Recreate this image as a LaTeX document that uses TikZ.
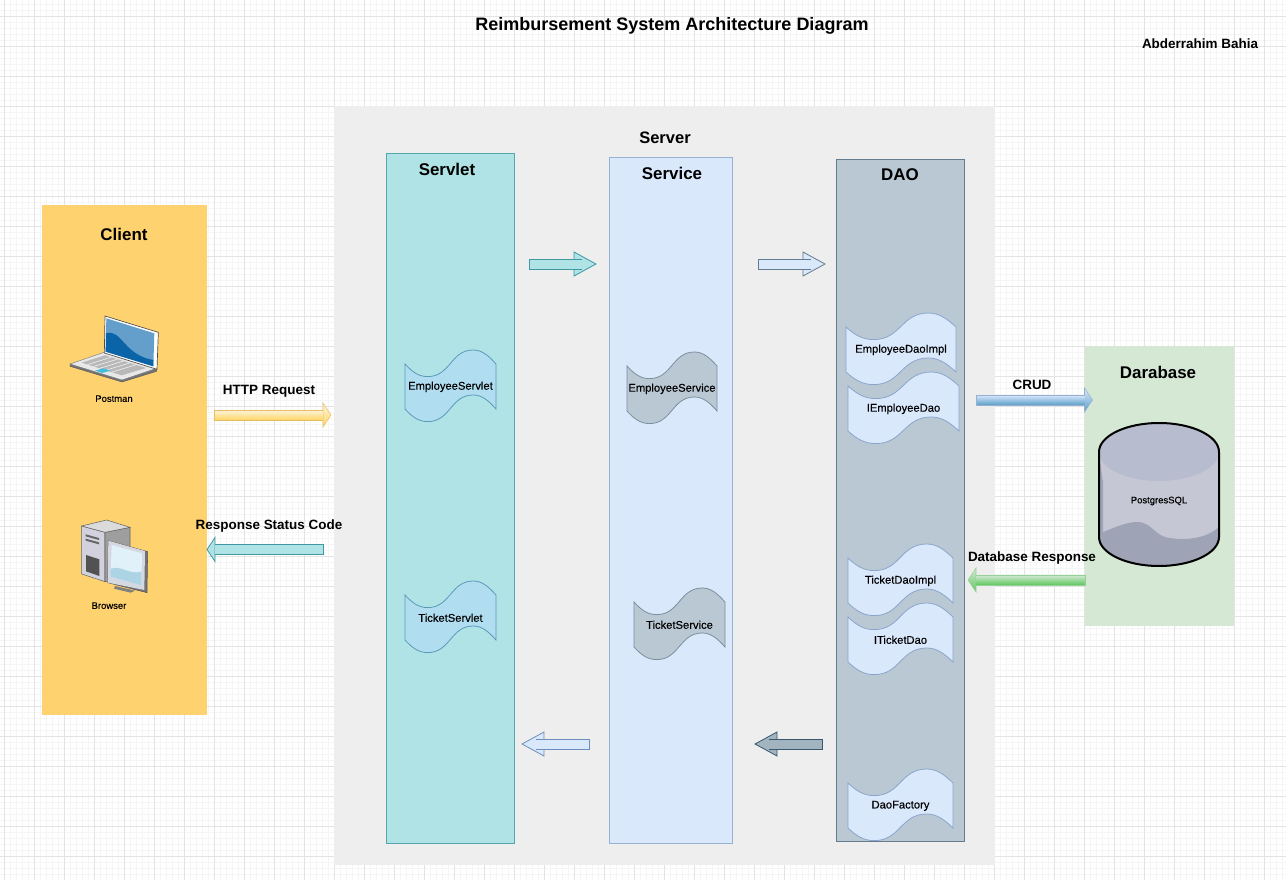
\documentclass[tikz,border=0pt]{standalone}
\usepackage{fontspec}
\setmainfont{Liberation Sans}
\newfontfamily\wavefont[FakeBold=0.25]{Liberation Sans}
\usetikzlibrary{calc}
\definecolor{clientfill}{HTML}{FFD270}
\definecolor{serverfill}{HTML}{EEEEEE}
\definecolor{tealfill}{HTML}{B0E3E6}
\definecolor{tealline}{HTML}{0E8088}
\definecolor{skyfill}{HTML}{B1DDF0}
\definecolor{skyline}{HTML}{5A9AB8}
\definecolor{bluefill}{HTML}{DAE8FC}
\definecolor{blueline}{HTML}{6C8EBF}
\definecolor{slatefill}{HTML}{BAC8D3}
\definecolor{slateline}{HTML}{23445D}
\definecolor{greenfill}{HTML}{D5E8D4}
\definecolor{cylbody}{HTML}{C5C7D4}
\definecolor{cyltop}{HTML}{B8BCCF}
\definecolor{cyllow}{HTML}{9EA3B5}
\definecolor{screenlight}{HTML}{649FCB}
\definecolor{screendark}{HTML}{0B64A8}
\tikzset{
  panel/.style={draw=#1!70!white,line width=.8pt},
  titletext/.style={font=\bfseries\fontsize{12.7}{14}\selectfont,inner sep=0pt},
  labeltext/.style={font=\bfseries\fontsize{10.1}{12}\selectfont,inner sep=0pt},
  wavetext/.style={font=\wavefont\fontsize{8.4}{10}\selectfont,inner sep=0pt},
  icontext/.style={font=\wavefont\fontsize{7.1}{8}\selectfont,inner sep=0pt},
  waveteal/.style={fill=skyfill,draw=skyline,line width=.6pt},
  waveslate/.style={fill=slatefill,draw=slateline!60!white,line width=.6pt},
  waveblue/.style={fill=bluefill,draw=blueline!80!white,line width=.6pt},
  arrowteal/.style={fill=tealfill,draw=tealline!80!white,line width=.6pt},
  arrowblue/.style={fill=bluefill,draw=slateline!70!white,line width=.6pt},
  arrowpale/.style={fill=bluefill,draw=blueline,line width=.6pt},
  arrowslate/.style={fill=slatefill!85!slateline,draw=slateline!90!white,line width=.6pt},
  arrowyellow/.style={top color=clientfill!25!white,bottom color=clientfill!90!yellow,draw=clientfill!90!black,line width=.4pt},
  arrowcrud/.style={top color=bluefill,bottom color=blueline!85!cyan,draw=blueline!70!white,line width=.4pt},
  arrowgreen/.style={top color=greenfill,bottom color=green!50!gray!80!greenfill,draw=green!40!gray!60!white,line width=.4pt},
}
% style, from, to, head length, overlap of the shaft
\newcommand{\blockarrow}[5]{
  \coordinate (hb) at ($(#3)!#4!(#2)$);
  \coordinate (sb) at ($(#3)!#4-#5!(#2)$);
  \draw[#1] ($(hb)!9pt!-90:(#2)$) -- (#3) -- ($(hb)!9pt!90:(#2)$) -- cycle;
  \draw[#1] ($(sb)!3.7pt!90:(#2)$) -- ($(#2)!3.7pt!-90:(#3)$) -- ($(#2)!3.7pt!90:(#3)$) -- ($(sb)!3.7pt!-90:(#2)$);
}
% style, name, left, top, width, text
\newcommand{\wavebox}[6]{
  \begin{scope}[shift={(#3,#4)},x={#5*0.75pt}]
  \draw[#1] (0,14) .. controls (.08,22) and (.15,26.6) .. (.25,26.6) .. controls (.5,26.6) and (.5,0) .. (.75,0) .. controls (.85,0) and (.92,6) .. (1,14) -- (1,59) .. controls (.92,51) and (.85,45) .. (.75,45) .. controls (.5,45) and (.5,71.6) .. (.25,71.6) .. controls (.15,71.6) and (.08,67) .. (0,59) -- cycle;
  \node[wavetext] (#2) at (.5,36.8) {#6};
  \end{scope}
}
\begin{document}
\begin{tikzpicture}[x=0.75pt,y=-0.75pt]
\useasboundingbox (0,0) rectangle (1286,880);
\fill[white] (0,0) rectangle (1286,880);
% grid
\foreach \x in {4,10,...,1286} \draw[black!4,line width=.5pt] (\x,0) -- (\x,880);
\foreach \y in {4.7,10.7,...,880} \draw[black!4,line width=.5pt] (0,\y) -- (1286,\y);
\foreach \x in {4,34,...,1286} \draw[black!11,line width=.6pt] (\x,0) -- (\x,880);
\foreach \y in {16.7,46.7,...,880} \draw[black!11,line width=.6pt] (0,\y) -- (1286,\y);
% panels
\fill[clientfill] (42,205) rectangle (207,715);
\fill[serverfill] (334,106) rectangle (995,865);
\fill[greenfill] (1085,346) rectangle (1234,626);
\draw[fill=tealfill,panel=tealline] (386.5,153.5) rectangle (514.5,843.5);
\draw[fill=bluefill,panel=blueline] (609.5,157.5) rectangle (732.5,843.5);
\draw[fill=slatefill,panel=slateline] (836.5,159.5) rectangle (964.5,841.5);
% titles
\node[font=\bfseries\fontsize{13.5}{16}\selectfont,inner sep=0pt] (title) at (672,25.5) {Reimbursement System Architecture Diagram};
\node[labeltext] (author) at (1200,44) {Abderrahim Bahia};
\node[titletext] (client) at (124,234.5) {Client};
\node[titletext,font=\bfseries\fontsize{12.4}{14}\selectfont] (server) at (665,138) {Server};
\node[titletext] (servlet) at (447,169.5) {Servlet};
\node[titletext] (service) at (672,173.5) {Service};
\node[titletext] (dao) at (900,174.5) {DAO};
\node[titletext] (database) at (1158,372.5) {Darabase};
% waves
\wavebox{waveteal}{employeeservlet}{405}{350}{91}{EmployeeServlet}
\wavebox{waveteal}{ticketservlet}{405}{581}{91}{TicketServlet}
\wavebox{waveslate}{employeeservice}{627}{352}{90}{EmployeeService}
\wavebox{waveslate}{ticketservice}{634}{588}{91}{TicketService}
\wavebox{waveblue}{employeedaoimpl}{846}{313}{110}{EmployeeDaoImpl}
\wavebox{waveblue}{iemployeedao}{848}{372}{111}{IEmployeeDao}
\wavebox{waveblue}{ticketdaoimpl}{848}{544}{105}{TicketDaoImpl}
\wavebox{waveblue}{iticketdao}{848}{603}{105}{ITicketDao}
\wavebox{waveblue}{daofactory}{848}{769}{105}{DaoFactory}
% arrows
\coordinate (a1) at (214,415); \coordinate (a2) at (331,415);
\coordinate (b1) at (323,549.5); \coordinate (b2) at (207,549.5);
\coordinate (c1) at (529,264); \coordinate (c2) at (596,264);
\coordinate (d1) at (758,264); \coordinate (d2) at (825,264);
\coordinate (e1) at (822,744); \coordinate (e2) at (755,744);
\coordinate (f1) at (589,744); \coordinate (f2) at (522,744);
\coordinate (g1) at (976,400); \coordinate (g2) at (1092.5,400);
\coordinate (h1) at (1085,580); \coordinate (h2) at (968,580);
\blockarrow{arrowyellow}{a1}{a2}{6pt}{0pt}
\blockarrow{arrowteal}{b1}{b2}{6pt}{0pt}
\blockarrow{arrowteal}{c1}{c2}{16.5pt}{6pt}
\blockarrow{arrowblue}{d1}{d2}{16.5pt}{6pt}
\blockarrow{arrowslate}{e1}{e2}{16.5pt}{6pt}
\blockarrow{arrowpale}{f1}{f2}{16.5pt}{6pt}
\blockarrow{arrowcrud}{g1}{g2}{6pt}{0pt}
\blockarrow{arrowgreen}{h1}{h2}{6pt}{0pt}
\node[labeltext] (http) at (269,391) {HTTP Request};
\node[labeltext] (response) at (269,526) {Response Status Code};
\node[labeltext] (crud) at (1032,385) {CRUD};
\node[labeltext] (dbresponse) at (1032,558) {Database Response};
% cylinder
\fill[cylbody] (1099,452) arc (180:360:60 and 29) -- (1219,537) arc (0:180:60 and 29) -- cycle;
\fill[cyltop] (1159,452) ellipse (60 and 29);
\fill[cyllow] (1099,455) -- (1103,482) -- (1103,532) -- (1099,545) -- cycle;
\fill[cyllow] (1103,532) .. controls (1118,526) and (1128,522) .. (1137,522) .. controls (1152,522) and (1155,537) .. (1170,538) .. controls (1190,541) and (1208,537) .. (1219,527) -- (1219,537) arc (0:180:60 and 29) -- cycle;
\draw[black,line width=1.5pt] (1099,452) arc (180:360:60 and 29) -- (1219,537) arc (0:180:60 and 29) -- cycle;
\node[icontext] (postgres) at (1159,501) {PostgresSQL};
% laptop
\begin{scope}[shift={(40,300)},x=0.25pt,y=-0.25pt]
\draw[fill=black!55,draw=black!65,line width=.3pt] (90,192) -- (90,199) -- (246,246) -- (350,214) -- (350,205) -- cycle;
\draw[fill=black!9,draw=black!55,line width=.3pt] (90,192) -- (195,156) -- (350,205) -- (246,240) -- cycle;
\fill[black!28] (125,188) -- (195,166) -- (318,204) -- (245,226) -- cycle;
\foreach \t in {.15,.3,...,.9} \draw[black!7,line width=.5pt] ($(125,188)!\t!(245,226)$) -- ($(195,166)!\t!(318,204)$);
\fill[screenlight!70!cyan] (165,212) -- (190,205) -- (212,212) -- (187,219) -- cycle;
\draw[fill=white,draw=black!70,line width=.5pt] (195,48) -- (355,97) -- (351,208) -- (193,159) -- cycle;
\fill[screenlight] (199,55) -- (343,100) -- (340,199) -- (197,155) -- cycle;
\fill[screendark] (198,100) .. controls (245,85) and (250,165) .. (340,180) -- (340,199) -- (197,155) -- cycle;
\node[icontext] (postman) at (222,296) {Postman};
% computer
\draw[fill=cylbody!80!white,draw=black!60,line width=.4pt] (125,678) -- (195,697) -- (195,845) -- (125,822) -- cycle;
\draw[fill=black!38,draw=black!60,line width=.4pt] (195,697) -- (270,682) -- (270,830) -- (195,845) -- cycle;
\draw[fill=black!14,draw=black!60,line width=.4pt] (125,678) -- (200,660) -- (270,682) -- (195,697) -- cycle;
\fill[black!60] (137,703) -- (177,714) -- (177,720) -- (137,709) -- cycle;
\fill[black!60] (137,716) -- (177,727) -- (177,733) -- (137,722) -- cycle;
\fill[black!68] (138,765) -- (178,778) -- (178,828) -- (138,814) -- cycle;
\fill[black!50] (225,858) -- (285,872) -- (272,878) -- (222,866) -- cycle;
\draw[fill=black!55,draw=black!65,line width=.4pt] (205,722) -- (323,755) -- (321,878) -- (203,848) -- cycle;
\fill[cylbody!70!white] (205,722) -- (315,753) -- (313,870) -- (203,848) -- cycle;
\fill[skyfill!40!white] (215,735) -- (306,760) -- (304,856) -- (212,830) -- cycle;
\fill[skyfill!90!gray] (212,806) .. controls (245,795) and (265,825) .. (304,815) -- (304,856) -- (212,830) -- cycle;
\node[icontext] (browser) at (207,917) {Browser};
\end{scope}
\end{tikzpicture}
\end{document}
